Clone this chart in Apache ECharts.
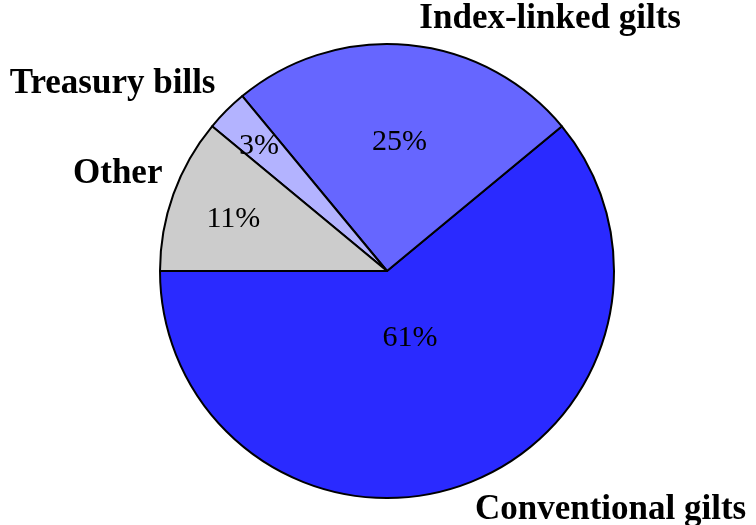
<!DOCTYPE html>
<html>
<head>
<meta charset="utf-8">
<script src="https://cdn.jsdelivr.net/npm/echarts@6/dist/echarts.min.js"></script>
<style>
  html, body { margin: 0; padding: 0; background: #ffffff; }
  #chart { width: 756px; height: 525px; }
</style>
</head>
<body>
<div id="chart"></div>
<script>
// Holdings breakdown (percent of total)
const categories = ['Conventional gilts', 'Index-linked gilts', 'Treasury bills', 'Other'];
const shares = [61, 25, 3, 11];
const sliceColors = ['#2a2aff', '#6666ff', '#b3b3ff', '#cccccc'];

const CX = 387, CY = 271, R = 227;
const START = 180; // first slice starts at 9 o'clock, running counter-clockwise

const total = shares.reduce((a, b) => a + b, 0);
// start / span of each slice in degrees (math convention)
const spans = shares.map(v => v / total * 360);
const starts = spans.map((s, i) => START + spans.slice(0, i).reduce((a, b) => a + b, 0));
const mids = starts.map((s, i) => (s + spans[i] / 2) * Math.PI / 180);

// percentage text sits closer to the rim for thin slices, nearer the centre for wide ones
function pctRadius(span) {
  const k = Math.max(Math.min(-0.3 * (span - 10) / 110, 0), -0.5);
  return (0.8 + k) * R;
}

// names without descenders sit a little closer to the rim
const hasDescender = s => /[gjpqy]/.test(s);

const pieData = categories.map((name, i) => ({
  name: name,
  value: shares[i],
  itemStyle: { color: sliceColors[i] }
}));

const chart = echarts.init(document.getElementById('chart'), null, { renderer: 'canvas' });

chart.setOption({
  animation: false,
  backgroundColor: '#ffffff',
  series: [
    {
      type: 'pie',
      center: [CX, CY],
      radius: R,
      startAngle: START,
      clockwise: false,
      avoidLabelOverlap: false,
      silent: true,
      itemStyle: { borderColor: '#000000', borderWidth: 2 },
      label: {
        show: true,
        position: 'outside',
        formatter: '{b}',
        fontFamily: '"Liberation Serif", "DejaVu Serif", serif',
        fontWeight: 'bold',
        fontSize: 35,
        color: '#000000'
      },
      labelLine: { show: false },
      labelLayout: function (p) {
        const i = p.dataIndex;
        const a = mids[i];
        const c = Math.cos(a), s = Math.sin(a);
        const ex = CX + R * c, ey = CY - R * s;
        const vpad = s >= 0 ? (hasDescender(categories[i]) ? 9 : 3) : 8;
        return {
          x: ex + (c >= 0 ? 11 : -11),
          y: s >= 0 ? ey - vpad : ey + vpad,
          align: c >= 0 ? 'left' : 'right',
          verticalAlign: s >= 0 ? 'bottom' : 'top'
        };
      },
      data: pieData
    },
    {
      type: 'pie',
      center: [CX, CY],
      radius: R,
      startAngle: START,
      clockwise: false,
      avoidLabelOverlap: false,
      silent: true,
      z: 3,
      itemStyle: { color: 'rgba(0,0,0,0)', borderWidth: 0 },
      label: {
        show: true,
        position: 'inside',
        formatter: p => p.value + '%',
        fontFamily: '"Liberation Serif", "DejaVu Serif", serif',
        fontSize: 30,
        color: '#000000'
      },
      labelLine: { show: false },
      labelLayout: function (p) {
        const i = p.dataIndex;
        const r = pctRadius(spans[i]);
        return {
          x: CX + r * Math.cos(mids[i]),
          y: CY - r * Math.sin(mids[i]) + 3,
          align: 'center',
          verticalAlign: 'middle'
        };
      },
      data: categories.map((name, i) => ({ name: name, value: shares[i] }))
    }
  ]
});
</script>
</body>
</html>
